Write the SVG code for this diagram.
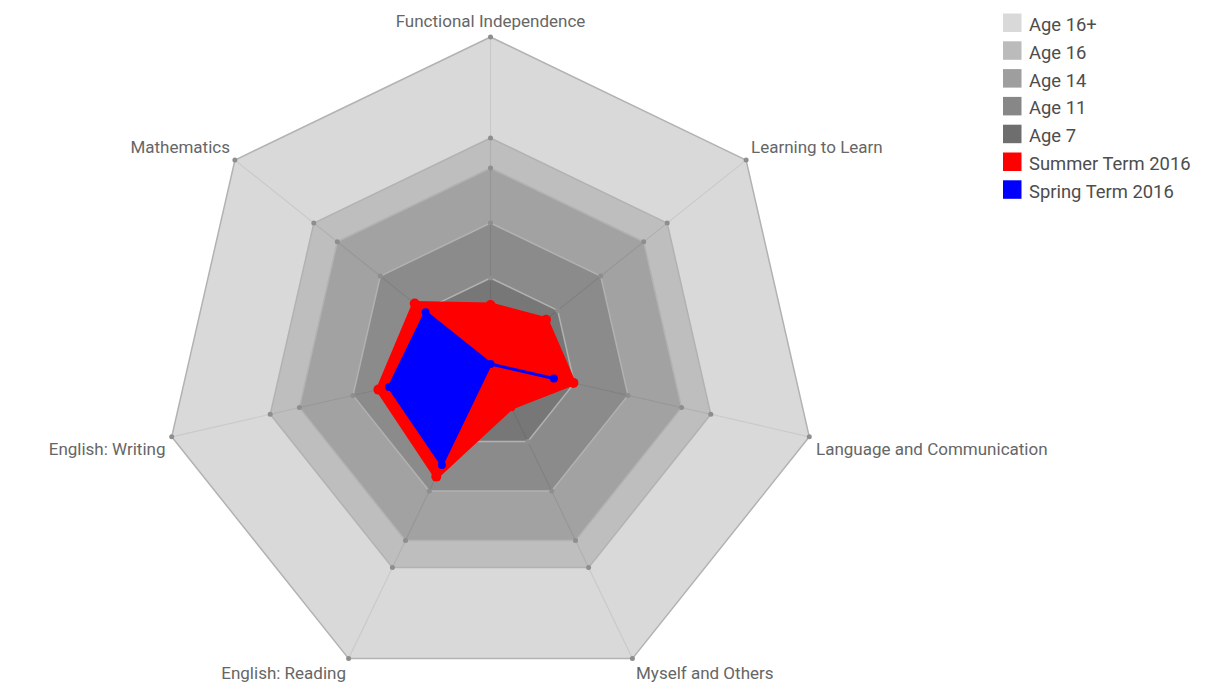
<svg xmlns="http://www.w3.org/2000/svg" width="1206" height="682" viewBox="0 0 1206 682">
<style>
.bg{fill:#ffffff}
.ring{stroke:#b2b2b2;stroke-width:1.5;stroke-linejoin:round}
.r5{fill:#d9d9d9}
.r4{fill:#bebebe}
.r3{fill:#a2a2a2}
.r2{fill:#8b8b8b}
.r1{fill:#777777}
.spoke{stroke:#000;stroke-opacity:0.07;stroke-width:1.2}
.gd{fill:#8e8e8e}
.ax{font-family:Roboto,"Liberation Sans",sans-serif;font-size:17px;fill:#666666}
.lg{font-family:Roboto,"Liberation Sans",sans-serif;font-size:18.4px;fill:#4d4d4d}
.red{fill:#ff0000;stroke:#ff0000;stroke-width:5;stroke-linejoin:round}
.blue{fill:#0000ff;stroke:#0000ff;stroke-width:3;stroke-linejoin:round}
</style>
<rect class="bg" x="0" y="0" width="1206" height="682"/>
<g id="grid">
<polygon class="ring r5" points="490.5,37 746.1,160.1 809.3,436.8 632.4,658.6 348.6,658.6 171.7,436.8 234.9,160.1"/>
<polygon class="ring r4" points="490.5,138 667.2,223.1 710.8,414.3 588.6,567.6 392.4,567.6 270.2,414.3 313.8,223.1"/>
<polygon class="ring r3" points="490.5,168 643.7,241.8 681.6,407.6 575.5,540.6 405.5,540.6 299.4,407.6 337.3,241.8"/>
<polygon class="ring r2" points="490.5,223 600.7,276.1 628,395.4 551.7,491 429.3,491 353,395.4 380.3,276.1"/>
<polygon class="ring r1" points="490.5,278 557.7,310.4 574.3,383.1 527.8,441.5 453.2,441.5 406.7,383.1 423.3,310.4"/>
<g class="spoke">
<line x1="490.5" y1="364" x2="490.5" y2="37"/>
<line x1="490.5" y1="364" x2="746.1" y2="160.1"/>
<line x1="490.5" y1="364" x2="809.3" y2="436.8"/>
<line x1="490.5" y1="364" x2="632.4" y2="658.6"/>
<line x1="490.5" y1="364" x2="348.6" y2="658.6"/>
<line x1="490.5" y1="364" x2="171.7" y2="436.8"/>
<line x1="490.5" y1="364" x2="234.9" y2="160.1"/>
</g>
<g class="gd">
<circle cx="490.5" cy="37" r="2.5"/><circle cx="746.1" cy="160.1" r="2.5"/><circle cx="809.3" cy="436.8" r="2.5"/><circle cx="632.4" cy="658.6" r="2.5"/><circle cx="348.6" cy="658.6" r="2.5"/><circle cx="171.7" cy="436.8" r="2.5"/><circle cx="234.9" cy="160.1" r="2.5"/>
<circle cx="490.5" cy="138" r="2.5"/><circle cx="667.2" cy="223.1" r="2.5"/><circle cx="710.8" cy="414.3" r="2.5"/><circle cx="588.6" cy="567.6" r="2.5"/><circle cx="392.4" cy="567.6" r="2.5"/><circle cx="270.2" cy="414.3" r="2.5"/><circle cx="313.8" cy="223.1" r="2.5"/>
<circle cx="490.5" cy="168" r="2.5"/><circle cx="643.7" cy="241.8" r="2.5"/><circle cx="681.6" cy="407.6" r="2.5"/><circle cx="575.5" cy="540.6" r="2.5"/><circle cx="405.5" cy="540.6" r="2.5"/><circle cx="299.4" cy="407.6" r="2.5"/><circle cx="337.3" cy="241.8" r="2.5"/>
<circle cx="490.5" cy="223" r="2.5"/><circle cx="600.7" cy="276.1" r="2.5"/><circle cx="628" cy="395.4" r="2.5"/><circle cx="551.7" cy="491" r="2.5"/><circle cx="429.3" cy="491" r="2.5"/><circle cx="353" cy="395.4" r="2.5"/><circle cx="380.3" cy="276.1" r="2.5"/>
<circle cx="490.5" cy="278" r="2.5"/><circle cx="557.7" cy="310.4" r="2.5"/><circle cx="574.3" cy="383.1" r="2.5"/><circle cx="527.8" cy="441.5" r="2.5"/><circle cx="453.2" cy="441.5" r="2.5"/><circle cx="406.7" cy="383.1" r="2.5"/><circle cx="423.3" cy="310.4" r="2.5"/>
</g>
</g>
<g id="summer">
<polygon class="red" points="490.5,305 546,319.7 573.4,382.9 511.3,407.2 436.3,476.6 378.4,389.6 414.7,303.5"/>
<g fill="#ff0000">
<circle cx="490.5" cy="305" r="5"/><circle cx="546" cy="319.7" r="5"/><circle cx="573.4" cy="382.9" r="5"/><circle cx="511.3" cy="407.2" r="4"/><circle cx="436.3" cy="476.6" r="5"/><circle cx="378.4" cy="389.6" r="5"/><circle cx="414.7" cy="303.5" r="5"/>
</g>
</g>
<g id="spring">
<polygon class="blue" points="490.5,364 490.5,364 553.9,378.5 490.5,364 441.9,464.9 389.1,387.1 425.6,312.2"/>
<g fill="#0000ff">
<circle cx="490.5" cy="364" r="4"/><circle cx="553.9" cy="378.5" r="4"/><circle cx="441.9" cy="464.9" r="4"/><circle cx="389.1" cy="387.1" r="4"/><circle cx="425.6" cy="312.2" r="4"/>
</g>
</g>
<g id="labels">
<text class="ax" x="490.5" y="27" text-anchor="middle">Functional Independence</text>
<text class="ax" x="751" y="153">Learning to Learn</text>
<text class="ax" x="816" y="454.5">Language and Communication</text>
<text class="ax" x="636" y="678.5">Myself and Others</text>
<text class="ax" x="346" y="678.5" text-anchor="end">English: Reading</text>
<text class="ax" x="165.5" y="454.5" text-anchor="end">English: Writing</text>
<text class="ax" x="230" y="152.5" text-anchor="end">Mathematics</text>
</g>
<g id="legend">
<rect x="1003" y="13.5" width="18.5" height="18.5" fill="#d9d9d9"/>
<text class="lg" x="1029" y="31">Age 16+</text>
<rect x="1003" y="41.3" width="18.5" height="18.5" fill="#bbbbbb"/>
<text class="lg" x="1029" y="58.8">Age 16</text>
<rect x="1003" y="69.1" width="18.5" height="18.5" fill="#9e9e9e"/>
<text class="lg" x="1029" y="86.6">Age 14</text>
<rect x="1003" y="96.9" width="18.5" height="18.5" fill="#878787"/>
<text class="lg" x="1029" y="114.4">Age 11</text>
<rect x="1003" y="124.7" width="18.5" height="18.5" fill="#6e6e6e"/>
<text class="lg" x="1029" y="142.2">Age 7</text>
<rect x="1003" y="152.5" width="18.5" height="18.5" fill="#ff0000"/>
<text class="lg" x="1029" y="170">Summer Term 2016</text>
<rect x="1003" y="180.3" width="18.5" height="18.5" fill="#0000ff"/>
<text class="lg" x="1029" y="197.8">Spring Term 2016</text>
</g>
</svg>
